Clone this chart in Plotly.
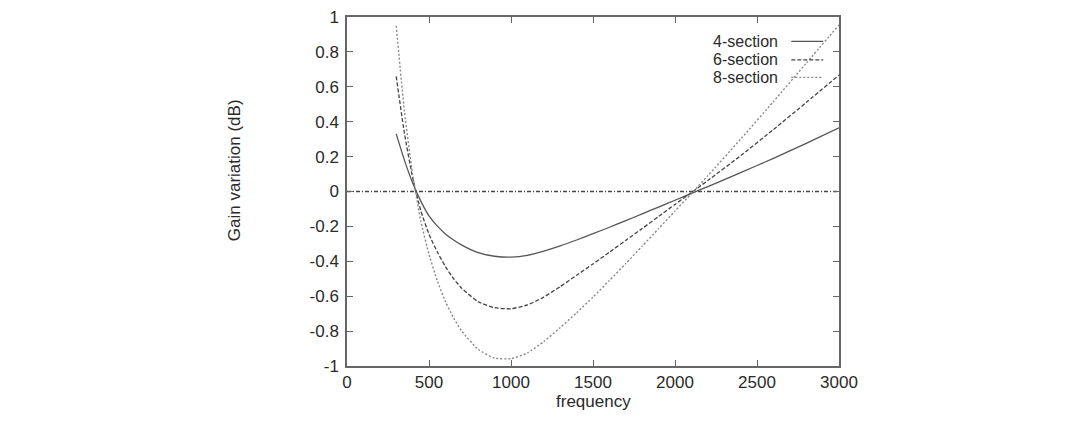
import plotly.graph_objects as go

# ---- data ----
frequency = [300, 350, 400, 450, 500, 550, 600, 650, 700, 800, 900, 1000, 1100, 1200, 1300,
             1400, 1500, 1600, 1700, 1800, 1900, 2000, 2100, 2200, 2400, 2600, 2800, 3000]
gain_4_section = [0.33, 0.18, 0.05, -0.055, -0.14, -0.197, -0.243, -0.278, -0.307, -0.350,
                  -0.371, -0.376, -0.366, -0.342, -0.312, -0.278, -0.242, -0.205, -0.167,
                  -0.128, -0.089, -0.05, -0.011, 0.028, 0.108, 0.19, 0.276, 0.365]
gain_6_section = [0.66, 0.335, 0.08, -0.11, -0.245, -0.345, -0.43, -0.50, -0.555, -0.632,
                  -0.666, -0.672, -0.65, -0.605, -0.545, -0.48, -0.415, -0.348, -0.28,
                  -0.212, -0.143, -0.074, -0.006, 0.063, 0.205, 0.355, 0.51, 0.667]
gain_8_section = [0.95, 0.46, 0.10, -0.17, -0.36, -0.51, -0.63, -0.725, -0.80, -0.905,
                  -0.955, -0.958, -0.925, -0.86, -0.78, -0.695, -0.605, -0.51, -0.413,
                  -0.313, -0.213, -0.112, -0.012, 0.09, 0.30, 0.515, 0.735, 0.955]
zero_x = [0, 3000]
zero_y = [0, 0]

x_ticks = [0, 500, 1000, 1500, 2000, 2500, 3000]
y_ticks = [-1, -0.8, -0.6, -0.4, -0.2, 0, 0.2, 0.4, 0.6, 0.8, 1]
y_tick_labels = ["-1", "-0.8", "-0.6", "-0.4", "-0.2", "0", "0.2", "0.4", "0.6", "0.8", "1"]
series_names = ["4-section", "6-section", "8-section"]

FONT = "Liberation Sans, Arial, Helvetica, sans-serif"
TXT = "#2a2a2a"
AX = "#666666"
FS = 17

styles = [
    dict(color="#555555", width=1.3, dash="solid"),
    dict(color="#444444", width=1.3, dash="4px,2px"),
    dict(color="#888888", width=1.4, dash="2px,2px"),
]

fig = go.Figure()

fig.add_trace(go.Scatter(x=zero_x, y=zero_y, mode="lines", showlegend=False,
                         line=dict(color="#444444", width=1.3, dash="4px,2px,1px,2px"),
                         hoverinfo="skip"))

for name, ys, st in zip(series_names, [gain_4_section, gain_6_section, gain_8_section], styles):
    fig.add_trace(go.Scatter(x=frequency, y=ys, mode="lines", name=name, showlegend=False,
                             line=dict(shape="spline", smoothing=0.5, **st)))

# gnuplot-style key: text right-aligned, sample to the right
key_y = [0.930, 0.877, 0.827]
for name, ky, st in zip(series_names, key_y, styles):
    fig.add_annotation(x=0.880, y=ky, xref="paper", yref="paper", text=name,
                       showarrow=False, xanchor="right", yanchor="middle",
                       font=dict(family=FONT, size=16, color=TXT))
    fig.add_shape(type="line", xref="paper", yref="paper", x0=0.903, x1=0.968,
                  y0=ky, y1=ky, line=st)

# axis titles
fig.add_annotation(x=0.5, y=-0.103, xref="paper", yref="paper", text="frequency",
                   showarrow=False, xanchor="center", yanchor="middle",
                   font=dict(family=FONT, size=FS, color=TXT))
fig.add_annotation(x=-0.227, y=0.562, xref="paper", yref="paper", text="Gain variation (dB)",
                   showarrow=False, xanchor="center", yanchor="middle", textangle=-90,
                   font=dict(family=FONT, size=FS, color=TXT))

axis_common = dict(showgrid=False, zeroline=False, showline=True, linecolor=AX, linewidth=1.5,
                   mirror="ticks", ticks="inside", ticklen=6, tickcolor=AX, tickwidth=1.2,
                   automargin=False, ticklabeloverflow="allow",
                   tickfont=dict(family=FONT, size=FS, color=TXT))

fig.update_xaxes(range=[0, 3000], tickvals=x_ticks, **axis_common)
fig.update_yaxes(range=[-1, 1], tickvals=y_ticks, ticktext=y_tick_labels,
                 ticklabelstandoff=3, **axis_common)

# the page body adds an 8px offset, so margins are compensated
fig.update_layout(width=1080, height=422,
                  margin=dict(l=339, r=249, t=9, b=64),
                  paper_bgcolor="white", plot_bgcolor="white",
                  showlegend=False)

fig.write_html("out.html")
